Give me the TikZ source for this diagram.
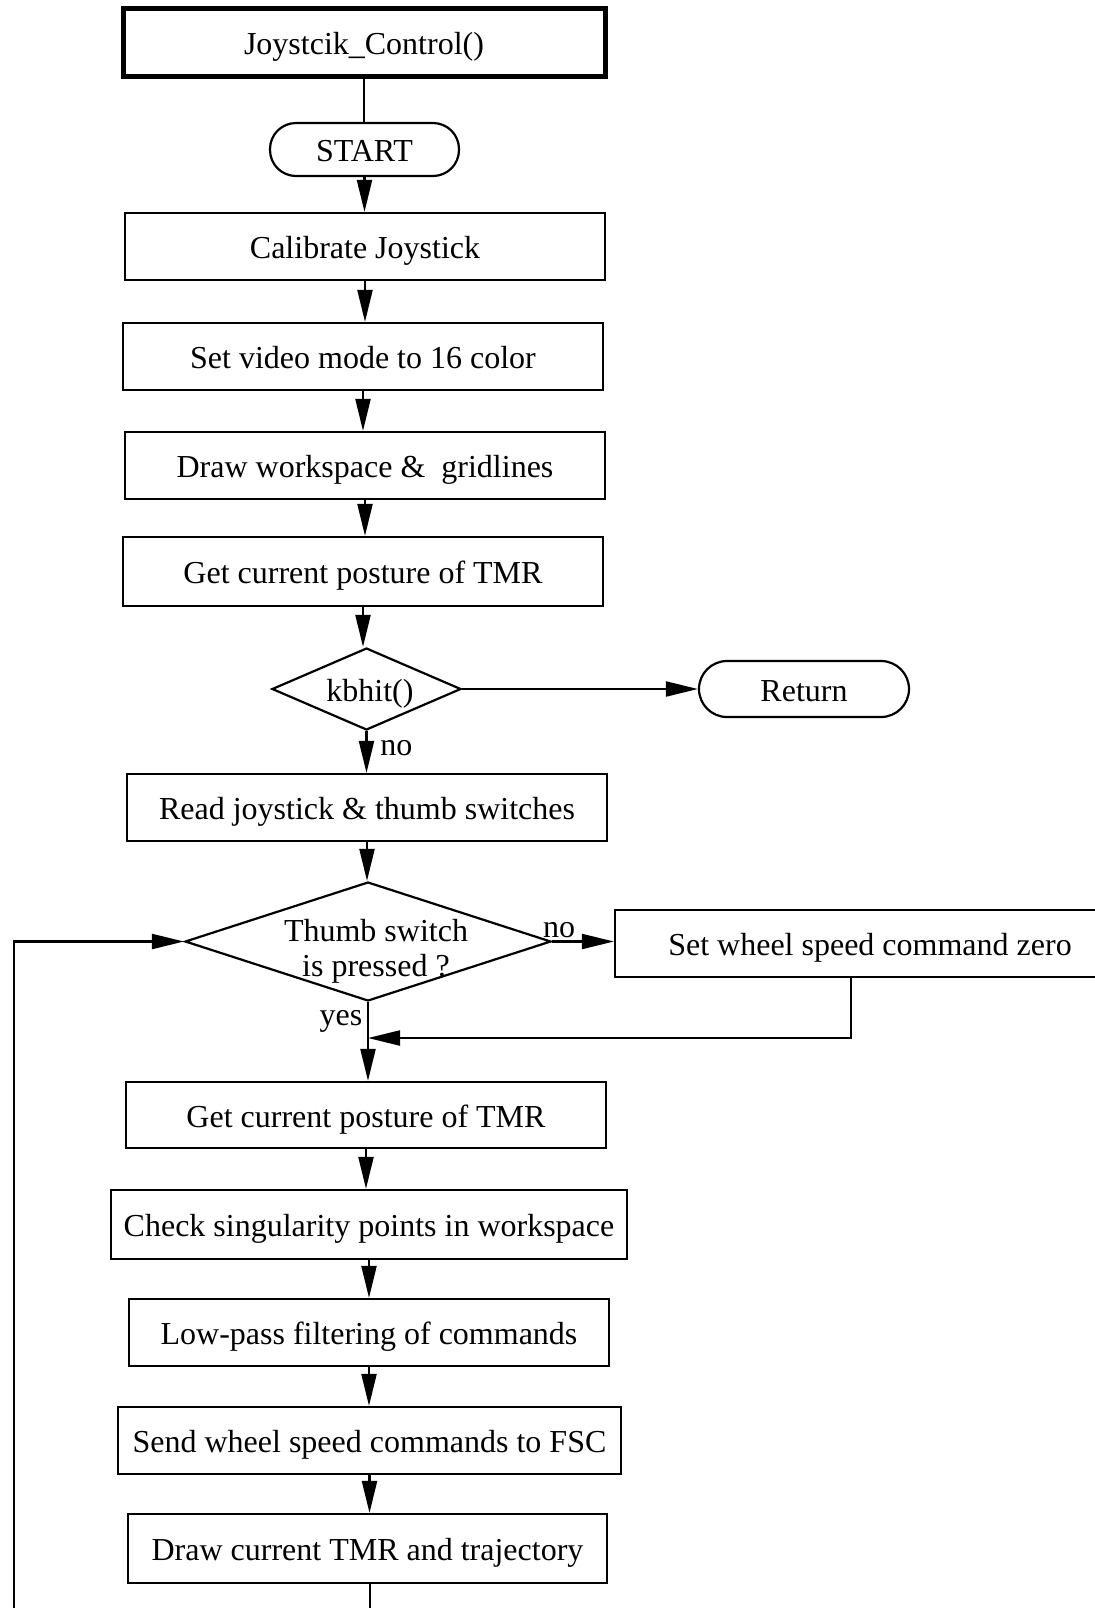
\documentclass[tikz,border=0pt]{standalone}
\usepackage{fontspec}
\setmainfont{Liberation Serif}
\usetikzlibrary{shapes.geometric,arrows.meta}
\begin{document}
\begin{tikzpicture}[x=0.5pt,y=-0.5pt,
  every node/.style={font=\fontsize{16}{17.5}\selectfont},
  tx/.style={text height=12pt,text depth=0pt},
  box/.style={tx,draw,line width=1.1pt,rectangle,inner sep=0pt,minimum height=33.5pt},
  titlebox/.style={box,line width=2.5pt},
  term/.style={tx,draw,line width=1.1pt,rectangle,rounded corners=13pt,inner sep=0pt},
  dia/.style={draw,line width=1.1pt,diamond,inner sep=0pt},
  lbl/.style={inner sep=0pt},
  flow/.style={line width=1.1pt},
  arr/.style={flow,-{Triangle[length=16pt,width=7.5pt]}}
]
\useasboundingbox (0,0) rectangle (1094,1608);

\node[titlebox,minimum width=241pt,minimum height=34pt] (title) at (364,42) {Joystcik\_Control()};
\node[term,minimum width=94.5pt,minimum height=26.5pt] (start) at (364.5,149.5) {START};
\node[box,minimum width=240pt] (calib) at (365,246.5) {Calibrate Joystick};
\node[box,minimum width=240pt] (video) at (363,356.5) {Set video mode to 16 color};
\node[box,minimum width=240pt] (work) at (365,465.5) {Draw workspace \& \ gridlines};
\node[box,minimum width=240pt,minimum height=34.5pt] (post1) at (363,571.5) {Get current posture of TMR};
\node[dia,minimum width=94.5pt,minimum height=41pt] (kb) at (366.5,689) {};
\node[lbl,tx] (kbt) at (370,689) {kbhit()};
\node[term,minimum width=105pt,minimum height=28pt,rounded corners=14pt] (ret) at (804,689) {Return};
\node[box,minimum width=240pt] (read) at (367,807.5) {Read joystick \& thumb switches};
\node[dia,minimum width=183pt,minimum height=59.5pt] (th) at (368,941.5) {};
\node[lbl,align=center] (tht) at (376,951) {Thumb switch\\is pressed ?};
\node[box,minimum width=255pt] (zero) at (870,943.5) {Set wheel speed command zero};
\node[box,minimum width=240pt,minimum height=33pt] (post2) at (366,1115) {Get current posture of TMR};
\node[box,minimum width=258pt,minimum height=34.5pt] (check) at (369,1224.5) {Check singularity points in workspace};
\node[box,minimum width=240pt] (low) at (369,1332.5) {Low-pass filtering of commands};
\node[box,minimum width=251.5pt] (send) at (369.5,1440.5) {Send wheel speed commands to FSC};
\node[box,minimum width=239.5pt,minimum height=34.5pt] (dtmr) at (367.5,1548.5) {Draw current TMR and trajectory};

\node[lbl,tx,anchor=west] (no1) at (380,743) {no};
\node[lbl,tx] (no2) at (559,925) {no};
\node[lbl,tx] (yes) at (341,1013) {yes};

\coordinate (m1) at (851,1038);
\coordinate (b1) at (370,1630);
\coordinate (b2) at (14,1630);

\draw[flow] (title.south) -- (title.south |- start.north);
\draw[arr] (start.south) -- (start.south |- calib.north);
\draw[arr] (calib.south) -- (calib.south |- video.north);
\draw[arr] (video.south) -- (video.south |- work.north);
\draw[arr] (work.south) -- (work.south |- post1.north);
\draw[arr] (post1.south) -- (post1.south |- kb.north);
\draw[arr] (kb.east) -- (ret.west);
\draw[arr] (kb.south) -- (kb.south |- read.north);
\draw[arr] (read.south) -- (read.south |- th.north);
\draw[arr] (th.east) -- (th.east -| zero.west);
\draw[arr] (m1 |- zero.south) -- (m1) -- (m1 -| th.south);
\draw[arr] (th.south) -- (th.south |- post2.north);
\draw[arr] (post2.south) -- (post2.south |- check.north);
\draw[arr] (check.south) -- (check.south |- low.north);
\draw[arr] (low.south) -- (low.south |- send.north);
\draw[arr] (send.south) -- (send.south |- dtmr.north);
\draw[flow] (dtmr.south -| b1) -- (b1);
\draw[arr] (b2) |- (th.west);
\end{tikzpicture}
\end{document}
